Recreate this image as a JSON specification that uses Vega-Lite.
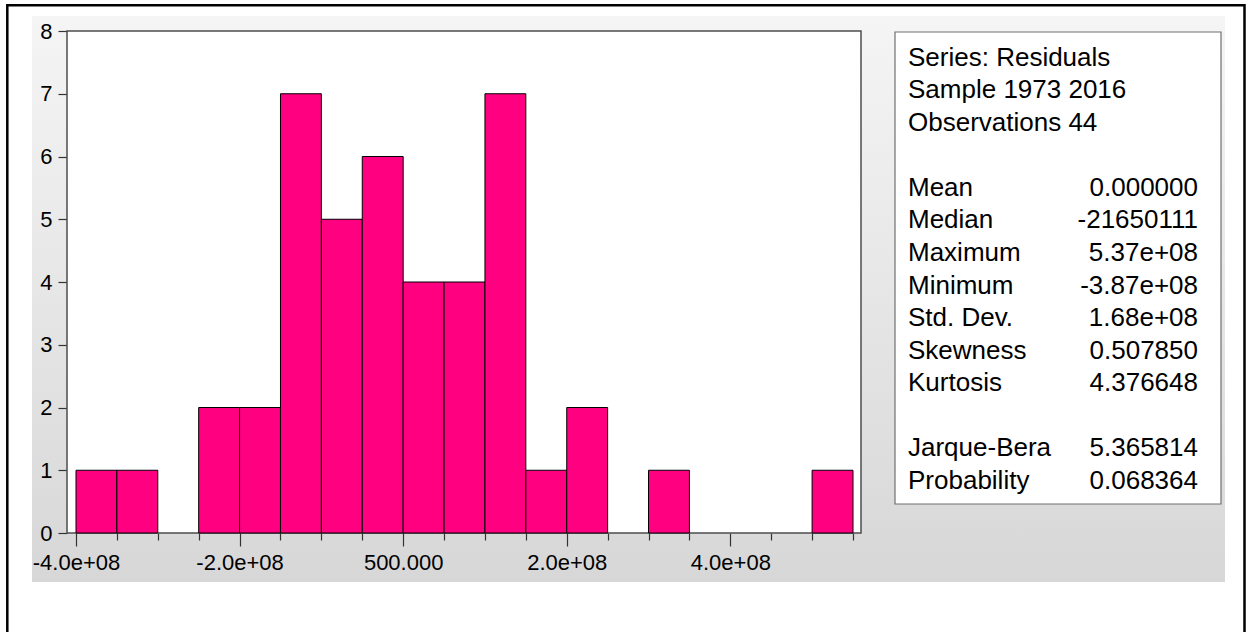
{
  "$schema": "https://vega.github.io/schema/vega-lite/v6.json",
  "width": 1193,
  "height": 566,
  "autosize": {"type": "none"},
  "padding": {"left": 32, "top": 16, "right": 26, "bottom": 50},
  "background": "white",
  "view": {
    "fill": {"gradient": "linear", "x1": 0, "y1": 0, "x2": 0, "y2": 1,
      "stops": [{"offset": 0, "color": "#f5f5f5"}, {"offset": 1, "color": "#d7d7d7"}]},
    "stroke": null
  },
  "config": {"font": "Liberation Sans"},
  "resolve": {"scale": {"x": "independent", "y": "independent"}},
  "layer": [
    {
      "data": {"values": [{"frame": "outer"}]},
      "mark": {"type": "rect", "fill": "transparent", "stroke": "black", "strokeWidth": 2.5, "clip": false},
      "encoding": {
        "x": {"datum": 0, "type": "quantitative", "scale": {"domain": [0, 1], "range": [-24.7, 1212.5], "nice": false, "zero": false}, "axis": null},
        "x2": {"datum": 1},
        "y": {"datum": 0, "type": "quantitative", "scale": {"domain": [0, 1], "range": [-10.7, 650], "nice": false, "zero": false}, "axis": null},
        "y2": {"datum": 1}
      }
    },
    {
      "data": {"values": [{"frame": "plot"}]},
      "mark": {"type": "rect", "fill": "white", "stroke": "#4d4d4d", "strokeWidth": 1.5},
      "encoding": {
        "x": {"datum": 0, "type": "quantitative", "scale": {"domain": [0, 1], "range": [35, 829], "nice": false, "zero": false}, "axis": null},
        "x2": {"datum": 1},
        "y": {"datum": 0, "type": "quantitative", "scale": {"domain": [0, 1], "range": [15, 517], "nice": false, "zero": false}, "axis": null},
        "y2": {"datum": 1}
      }
    },
    {
      "data": {"values": [
        {"bin_start": -400000000, "bin_end": -350000000, "count": 1},
        {"bin_start": -350000000, "bin_end": -300000000, "count": 1},
        {"bin_start": -250000000, "bin_end": -200000000, "count": 2},
        {"bin_start": -200000000, "bin_end": -150000000, "count": 2},
        {"bin_start": -150000000, "bin_end": -100000000, "count": 7},
        {"bin_start": -100000000, "bin_end": -50000000, "count": 5},
        {"bin_start": -50000000, "bin_end": 0, "count": 6},
        {"bin_start": 0, "bin_end": 50000000, "count": 4},
        {"bin_start": 50000000, "bin_end": 100000000, "count": 4},
        {"bin_start": 100000000, "bin_end": 150000000, "count": 7},
        {"bin_start": 150000000, "bin_end": 200000000, "count": 1},
        {"bin_start": 200000000, "bin_end": 250000000, "count": 2},
        {"bin_start": 300000000, "bin_end": 350000000, "count": 1},
        {"bin_start": 500000000, "bin_end": 550000000, "count": 1}
      ]},
      "mark": {"type": "rect", "fill": "#ff0080", "stroke": "black", "strokeWidth": 1},
      "encoding": {
        "x": {"field": "bin_start", "type": "quantitative",
          "scale": {"domain": [-400000000, 550000000], "range": [44, 821], "nice": false, "zero": false},
          "axis": {
            "orient": "bottom", "offset": -49, "title": null, "domain": false, "grid": false,
            "values": [-400000000, -350000000, -300000000, -250000000, -200000000, -150000000, -100000000, -50000000, 0, 50000000, 100000000, 150000000, 200000000, 250000000, 300000000, 350000000, 400000000, 450000000, 500000000, 550000000],
            "tickSize": {"condition": {"test": "datum.value % 200000000 === 0", "value": 13}, "value": 7},
            "tickColor": "#333333", "tickWidth": 1.2,
            "labelExpr": "datum.value === 0 ? '500.000' : (datum.value % 200000000 === 0 ? (datum.value < 0 ? '-' : '') + format(abs(datum.value) / 100000000, '.1f') + 'e+08' : '')",
            "labelFont": "Liberation Sans", "labelFontSize": 22, "labelColor": "black",
            "labelPadding": 6, "labelFlush": false, "labelOverlap": false
          }
        },
        "x2": {"field": "bin_end"},
        "y": {"field": "count", "type": "quantitative",
          "scale": {"domain": [0, 8], "range": [517, 15], "nice": false, "zero": true},
          "axis": {
            "orient": "left", "offset": -35, "title": null, "domain": false, "grid": false,
            "values": [0, 1, 2, 3, 4, 5, 6, 7, 8], "format": "d",
            "tickSize": 9, "tickColor": "#333333", "tickWidth": 1.2,
            "labelFont": "Liberation Sans", "labelFontSize": 22, "labelColor": "black",
            "labelPadding": 6, "labelFlush": false, "labelOverlap": false
          }
        },
        "y2": {"datum": 0}
      }
    },
    {
      "data": {"values": [{"frame": "stats"}]},
      "mark": {"type": "rect", "fill": "white", "stroke": "#707070", "strokeWidth": 1.2},
      "encoding": {
        "x": {"datum": 0, "type": "quantitative", "scale": {"domain": [0, 1], "range": [863, 1189], "nice": false, "zero": false}, "axis": null},
        "x2": {"datum": 1},
        "y": {"datum": 0, "type": "quantitative", "scale": {"domain": [0, 1], "range": [16, 488], "nice": false, "zero": false}, "axis": null},
        "y2": {"datum": 1}
      }
    },
    {
      "data": {"values": [
        {"line": 0, "label": "Series: Residuals", "number": ""},
        {"line": 1, "label": "Sample 1973 2016", "number": ""},
        {"line": 2, "label": "Observations 44", "number": ""},
        {"line": 4, "label": "Mean", "number": "0.000000"},
        {"line": 5, "label": "Median", "number": "-21650111"},
        {"line": 6, "label": "Maximum", "number": "5.37e+08"},
        {"line": 7, "label": "Minimum", "number": "-3.87e+08"},
        {"line": 8, "label": "Std. Dev.", "number": "1.68e+08"},
        {"line": 9, "label": "Skewness", "number": "0.507850"},
        {"line": 10, "label": "Kurtosis", "number": "4.376648"},
        {"line": 12, "label": "Jarque-Bera", "number": "5.365814"},
        {"line": 13, "label": "Probability", "number": "0.068364"}
      ]},
      "transform": [{"fold": ["label", "number"], "as": ["col", "txt"]}],
      "mark": {"type": "text", "font": "Liberation Sans", "fontSize": 26, "color": "black", "baseline": "alphabetic",
        "align": {"expr": "datum.col === 'label' ? 'left' : 'right'"}},
      "encoding": {
        "x": {"field": "col", "type": "nominal", "scale": {"type": "point", "domain": ["label", "number"], "range": [876, 1166], "padding": 0}, "axis": null},
        "y": {"field": "line", "type": "quantitative", "scale": {"domain": [0, 13], "range": [49.8, 472.7], "nice": false, "zero": false}, "axis": null},
        "text": {"field": "txt"}
      }
    }
  ]
}
